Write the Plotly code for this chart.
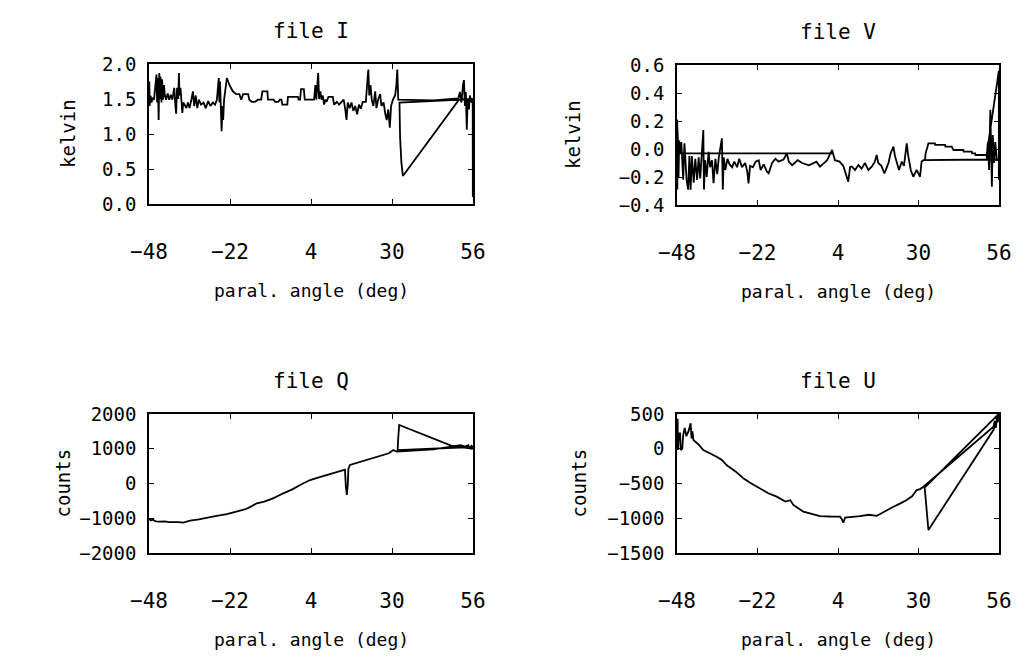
import plotly.graph_objects as go

# ---------------- data (time-ordered samples) ----------------
x_ticks = [-48, -22, 4, 30, 56]

I_x = [-48.0, -47.9, -47.8, -47.5, -47.2, -46.8, -46.4, -45.6, -45.4, -45.2, -44.9, -44.7, -44.5, -44.3,
       -44.0, -43.8, -43.5, -43.2, -42.9, -42.5, -42.0, -41.5, -41.0, -40.5, -39.9, -39.6, -39.3, -39.0,
       -38.6, -38.4, -38.2, -37.9, -37.6, -37.3, -37.0, -36.5, -36.0, -35.5, -35.0, -34.4, -33.9, -33.5,
       -33.0, -32.5, -32.0, -31.3, -30.5, -29.8, -29.0, -28.3, -27.5, -26.8, -26.2, -25.6, -25.4, -25.2,
       -25.0, -24.7, -24.4, -24.2, -23.9, -23.0, -22.2, -21.1, -20.0, -19.0, -18.4, -17.8, -16.2, -15.8,
       -15.0, -14.0, -13.0, -12.0, -11.6, -10.0, -9.8, -8.0, -7.5, -6.5, -6.0, -5.5, -5.2, -3.6, -3.4,
       -0.2, 0.0, 0.5, 0.8, 1.7, 2.0, 3.7, 5.0, 5.4, 5.7, 6.3, 6.6, 7.0, 7.4, 7.8, 8.2, 8.6, 9.0, 9.6,
       11.0, 11.4, 12.3, 13.0, 13.8, 14.5, 15.0, 15.4, 15.8, 16.4, 17.0, 17.6, 18.2, 18.8, 19.4, 20.0,
       20.6, 21.6, 22.0, 22.4, 22.7, 23.1, 23.5, 24.0, 24.6, 25.0, 25.6, 26.2, 26.6, 27.3, 27.8, 28.3,
       28.8, 29.3, 29.7, 30.3, 31.0, 31.4, 31.7, 32.0, 43.3, 51.3, 51.8, 52.3, 52.8, 53.1, 53.4, 53.7,
       54.0, 54.3, 54.7, 55.0, 55.5, 55.9, 32.4, 32.6, 33.0, 33.5, 51.5, 55.9, 55.95, 55.95]
I_y = [1.49, 1.75, 1.40, 1.55, 1.45, 1.52, 1.49, 1.85, 1.45, 1.80, 1.20, 1.87, 1.50, 1.82,
       1.45, 1.78, 1.49, 1.70, 1.55, 1.49, 1.58, 1.49, 1.56, 1.49, 1.66, 1.45, 1.29, 1.66,
       1.50, 1.87, 1.55, 1.66, 1.49, 1.30, 1.45, 1.40, 1.37, 1.45, 1.37, 1.49, 1.61, 1.40,
       1.55, 1.37, 1.49, 1.42, 1.45, 1.37, 1.47, 1.40, 1.45, 1.42, 1.49, 1.80, 1.45, 1.75,
       1.30, 1.04, 1.40, 1.20, 1.49, 1.80, 1.70, 1.61, 1.57, 1.57, 1.49, 1.57, 1.57, 1.49,
       1.46, 1.46, 1.49, 1.49, 1.61, 1.61, 1.49, 1.49, 1.46, 1.46, 1.49, 1.49, 1.42, 1.42, 1.53,
       1.53, 1.49, 1.49, 1.64, 1.64, 1.49, 1.49, 1.49, 1.70, 1.49, 1.87, 1.50, 1.61, 1.49, 1.55, 1.42, 1.49, 1.46, 1.53,
       1.53, 1.42, 1.46, 1.42, 1.45, 1.49, 1.35, 1.20, 1.45, 1.37, 1.45, 1.33, 1.40, 1.28, 1.42, 1.36,
       1.46, 1.46, 1.70, 1.92, 1.55, 1.70, 1.49, 1.40, 1.61, 1.37, 1.50, 1.57, 1.40, 1.45, 1.30, 1.20,
       1.35, 1.09, 1.40, 1.49, 1.55, 1.70, 1.92, 1.49, 1.48, 1.51, 1.60, 1.45, 1.70, 1.77, 1.40, 1.60,
       1.06, 1.50, 1.35, 1.55, 1.45, 1.50, 1.45, 0.95, 0.60, 0.40, 1.49, 1.50, 0.10, 1.49]

V_x = [2.1, -47.5, -48.0, -47.9, -47.7, -47.5, -47.3, -47.0, -46.6, -46.4, -46.0, -45.6, -45.2, -44.9,
       -44.4, -44.0, -43.6, -43.2, -42.6, -42.1, -41.5, -41.0, -40.5, -40.0, -39.5, -39.3, -38.9, -38.4,
       -37.8, -37.3, -36.7, -36.2, -35.6, -35.0, -34.5, -33.5, -33.2, -32.9, -32.4, -31.7, -31.0, -30.2,
       -29.5, -28.6, -27.9, -27.0, -26.0, -25.3, -24.9, -24.4, -23.5, -22.6, -21.6, -21.0, -20.0, -19.0,
       -18.4, -17.3, -16.2, -15.2, -13.6, -12.5, -11.9, -10.8, -9.0, -7.6, -5.4, -3.0, -1.8, 0.5, 2.1,
       3.0, 4.5, 5.7, 7.3, 7.9, 8.5, 9.5, 10.6, 11.6, 12.7, 13.8, 14.9, 15.9, 16.5, 17.0, 18.0, 19.0,
       19.7, 20.3, 21.0, 21.9, 22.4, 23.7, 24.6, 25.3, 26.2, 26.7, 27.5, 28.3, 29.4, 30.5, 31.0, 31.6,
       52.0, 52.4, 52.8, 53.2, 53.5, 53.7, 54.0, 54.4, 54.8, 55.3, 55.9, 32.1, 32.3, 33.2, 35.3, 35.4,
       38.6, 38.7, 40.7, 41.3, 44.5, 44.6, 47.2, 47.3, 48.3, 48.4, 52.0, 55.95, 55.95, 55.95]
V_y = [-0.031, -0.031, 0.21, -0.29, 0.05, -0.20, 0.06, -0.03, 0.05, -0.04, -0.22, 0.04, -0.12, -0.22,
       -0.29, -0.05, -0.29, -0.05, -0.24, -0.07, -0.22, -0.06, -0.21, -0.05, 0.136, -0.29, -0.08, -0.20,
       -0.02, -0.13, -0.08, -0.245, -0.07, -0.18, -0.06, 0.076, -0.29, -0.06, -0.15, -0.07, -0.11, -0.13,
       -0.09, -0.13, -0.07, -0.13, -0.10, -0.16, -0.245, -0.12, -0.13, -0.09, -0.08, -0.15, -0.11, -0.16,
       -0.174, -0.10, -0.07, -0.09, -0.075, -0.031, -0.09, -0.116, -0.08, -0.10, -0.116, -0.09, -0.126, -0.08, -0.007,
       -0.08, -0.09, -0.12, -0.233, -0.13, -0.126, -0.15, -0.114, -0.14, -0.10, -0.15, -0.126, -0.09, -0.043, -0.10, -0.12, -0.174,
       -0.126, -0.10, -0.03, 0.017, -0.05, -0.15, -0.09, -0.12, 0.04, -0.05, -0.15, -0.198, -0.15, -0.198, -0.09, -0.08,
       -0.075, 0.05, -0.15, 0.28, -0.05, -0.27, 0.10, -0.10, 0.05, -0.08, -0.075, -0.08, -0.031, 0.04, 0.04, 0.029,
       0.029, 0.017, 0.017, -0.007, -0.007, -0.019, -0.019, -0.031, -0.031, -0.043, -0.043, 0.56, -0.22, -0.05]

Q_x = [-47.9, -47.5, -46.8, -45.8, -44.5, -43.0, -41.5, -40.0, -38.5, -37.0, -35.8, -34.8, -32.0, -29.0,
       -26.3, -23.0, -19.9, -17.0, -15.0, -13.4, -11.0, -8.0, -4.9, -2.0, 1.4, 3.7, 6.0, 9.0, 11.5, 14.4,
       14.9, 15.2, 15.5, 15.8, 16.0, 16.5, 19.0, 21.9, 24.5, 27.2, 29.0, 30.4, 31.5, 43.3, 49.0, 50.5,
       52.0, 53.5, 54.5, 55.0, 55.5, 55.9, 31.8, 32.0, 32.3, 49.0, 55.9]
Q_y = [-1000, -1060, -1040, -1090, -1100, -1090, -1110, -1100, -1110, -1127, -1100, -1070, -1030, -990,
       -935, -880, -811, -740, -650, -570, -520, -420, -282, -170, 0, 100, 160, 245, 310, 388,
       400, -100, -330, -50, 420, 532, 600, 676, 750, 820, 870, 964, 915, 984, 1060, 1080,
       1100, 1060, 1100, 1000, 1080, 1050, 960, 1300, 1683, 1090, 1000]

U_x = [-48.0, -47.8, -47.7, -47.4, -47.0, -46.8, -46.3, -46.0, -45.5, -45.0, -44.3, -43.6, -43.3, -43.0,
       -42.7, -41.0, -39.5, -37.5, -35.2, -33.5, -32.0, -29.0, -26.6, -24.0, -21.2, -18.5, -15.8, -13.0,
       -11.4, -10.4, -7.2, -4.5, -1.8, 1.5, 4.6, 5.2, 5.7, 6.3, 8.5, 11.1, 14.0, 16.5, 17.6, 19.8, 21.9,
       24.0, 26.2, 28.0, 29.4, 30.5, 31.6, 54.2, 54.6, 55.0, 55.3, 55.6, 55.9, 32.0, 32.5, 33.2, 54.2, 55.9]
U_y = [300, 430, -18, 222, 222, -18, 0, 200, 300, 180, 250, 366, 150, 250,
       126, 60, -18, -60, -114, -160, -234, -330, -425, -500, -569, -640, -689, -760,
       -740, -809, -905, -940, -968, -975, -978, -1010, -1064, -990, -975, -968, -950, -965, -939, -880, -834,
       -790, -738, -680, -594, -580, -546, 318, 400, 300, 450, 380, 500, -560, -800, -1169, 270, 480]

# ---------------- layout helpers ----------------
W, H = 1017, 660
FONT = "DejaVu Sans Mono"


def fx(p):
    return p / W


def fy(p):
    return 1 - p / H


panels = [
    dict(title="file I", x=I_x, y=I_y, box=(149, 473, 64, 204), yr=[0, 2.0],
         yt=[0, 0.5, 1.0, 1.5, 2.0], fmt=".1f", ytitle="kelvin", ytx=68),
    dict(title="file V", x=V_x, y=V_y, box=(677, 999, 65, 205), yr=[-0.4, 0.6],
         yt=[-0.4, -0.2, 0.0, 0.2, 0.4, 0.6], fmt=".1f", ytitle="kelvin", ytx=573),
    dict(title="file Q", x=Q_x, y=Q_y, box=(149, 473, 414, 553), yr=[-2000, 2000],
         yt=[-2000, -1000, 0, 1000, 2000], fmt="d", ytitle="counts", ytx=62),
    dict(title="file U", x=U_x, y=U_y, box=(677, 999, 414, 553), yr=[-1500, 500],
         yt=[-1500, -1000, -500, 0, 500], fmt="d", ytitle="counts", ytx=578),
]

fig = go.Figure()
annotations = []
layout = {}
for i, p in enumerate(panels, start=1):
    xa = "x" if i == 1 else f"x{i}"
    ya = "y" if i == 1 else f"y{i}"
    x0, x1, y0, y1 = p["box"]
    fig.add_trace(go.Scatter(x=p["x"], y=p["y"], mode="lines", xaxis=xa, yaxis=ya,
                             line=dict(color="black", width=1.8), showlegend=False,
                             hoverinfo="skip"))
    common = dict(showline=True, linecolor="black", linewidth=1.6, mirror="allticks",
                  ticks="inside", ticklen=5, tickcolor="black", tickwidth=1.2,
                  showgrid=False, zeroline=False, automargin=False)
    layout["xaxis" if i == 1 else f"xaxis{i}"] = dict(
        domain=[fx(x0), fx(x1)], range=[-48, 56], tickvals=x_ticks, anchor=ya,
        tickfont=dict(family=FONT, size=21, color="black"), ticklabelstandoff=28, **common)
    layout["yaxis" if i == 1 else f"yaxis{i}"] = dict(
        domain=[fy(y1), fy(y0)], range=p["yr"], tickvals=p["yt"], tickformat=p["fmt"], anchor=xa,
        tickfont=dict(family=FONT, size=19, color="black"), ticklabelstandoff=7, **common)
    cx = (x0 + x1) / 2
    annotations.append(dict(text=p["title"], x=fx(cx), y=fy(y0 - 33), xref="paper", yref="paper",
                            showarrow=False, xanchor="center", yanchor="middle",
                            font=dict(family=FONT, size=21, color="black")))
    annotations.append(dict(text="paral. angle (deg)", x=fx(cx), y=fy(y1 + 86), xref="paper",
                            yref="paper", showarrow=False, xanchor="center", yanchor="middle",
                            font=dict(family=FONT, size=18, color="black")))
    annotations.append(dict(text=p["ytitle"], x=fx(p["ytx"]), y=fy((y0 + y1) / 2), xref="paper",
                            yref="paper", showarrow=False, xanchor="center", yanchor="middle",
                            textangle=-90, font=dict(family=FONT, size=19, color="black")))

fig.update_layout(template="none", width=W, height=H, margin=dict(l=0, r=0, t=0, b=0, pad=0),
                  paper_bgcolor="white", plot_bgcolor="white",
                  annotations=annotations, **layout)
# remove the browser's default 8 px body margin so the figure fills the window exactly
fig.write_html("out.html", config={"displayModeBar": False},
               post_script="document.body.style.margin='0';document.body.style.overflow='hidden';")
